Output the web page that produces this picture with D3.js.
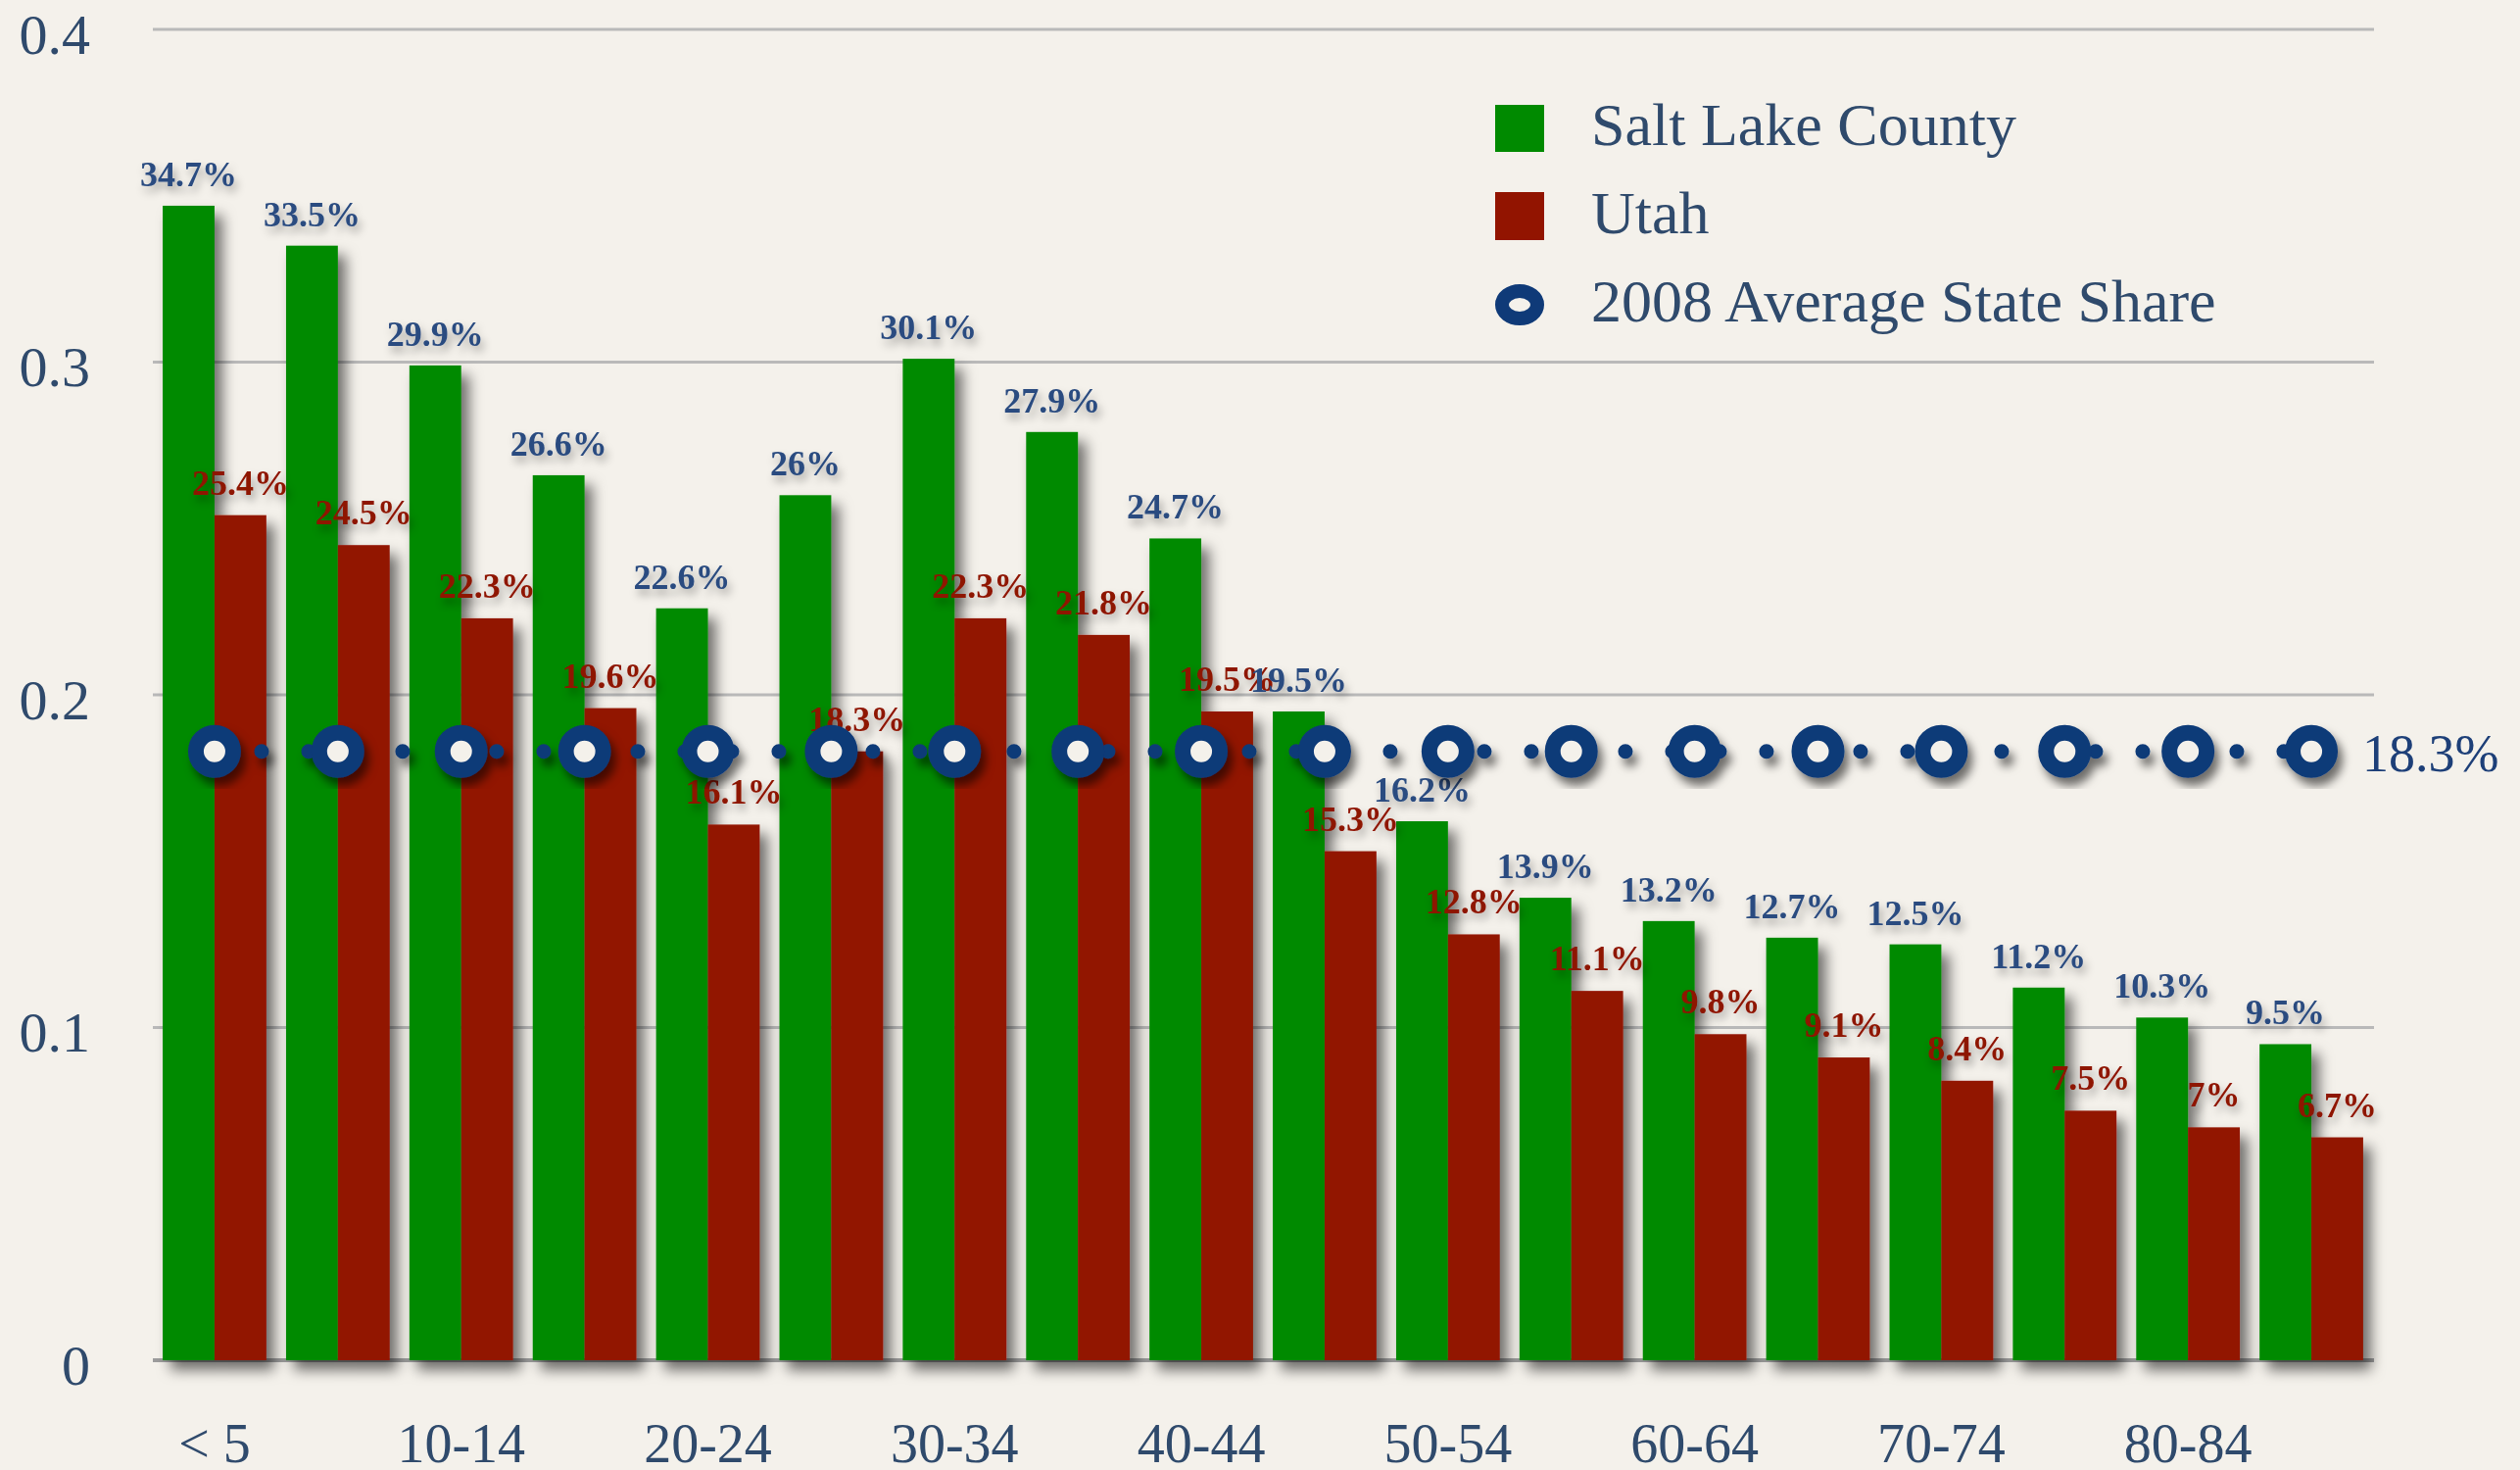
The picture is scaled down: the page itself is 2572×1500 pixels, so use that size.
<!DOCTYPE html>
<html>
<head>
<meta charset="utf-8">
<script src="https://cdn.jsdelivr.net/npm/d3@7"></script>
<style>
  body { margin: 0; background: #f4f1eb; }
  svg { display: block; }
  text { font-family: "Liberation Serif", "DejaVu Serif", serif; }
</style>
</head>
<body>
<div id="chart"></div>
<script>
// age groups, 2008 shares
var ageGroups = ["< 5", "5-9", "10-14", "15-19", "20-24", "25-29", "30-34", "35-39", "40-44",
  "45-49", "50-54", "55-59", "60-64", "65-69", "70-74", "75-79", "80-84", "85+"];
var saltLake = [0.347, 0.335, 0.299, 0.266, 0.226, 0.26, 0.301, 0.279, 0.247,
  0.195, 0.162, 0.139, 0.132, 0.127, 0.125, 0.112, 0.103, 0.095];
var utah = [0.254, 0.245, 0.223, 0.196, 0.161, 0.183, 0.223, 0.218, 0.195,
  0.153, 0.128, 0.111, 0.098, 0.091, 0.084, 0.075, 0.07, 0.067];
var stateAvg = [0.183, 0.183, 0.183, 0.183, 0.183, 0.183, 0.183, 0.183, 0.183,
  0.183, 0.183, 0.183, 0.183, 0.183, 0.183, 0.183, 0.183, 0.183];
var yTicks = [0, 0.1, 0.2, 0.3, 0.4];
var seriesNames = ["Salt Lake County", "Utah", "2008 Average State Share"];

var width = 2572;
var height = 1500;
var bg = "#f4f1eb";
var textColor = "#2f4a6c";
var green = "#008a00";
var red = "#921400";
var blue = "#0f3a78";

var svg = d3.select("#chart")
  .append("svg")
  .attr("width", width)
  .attr("height", height);

svg.append("rect").attr("width", width).attr("height", height).attr("fill", bg);

var defs = svg.append("defs");
defs.append("filter").attr("id", "barShadow")
  .attr("x", "-30%").attr("y", "-10%").attr("width", "160%").attr("height", "130%")
  .append("feDropShadow")
  .attr("dx", 8).attr("dy", 10).attr("stdDeviation", 7)
  .attr("flood-color", "#000").attr("flood-opacity", 0.55);
defs.append("filter").attr("id", "markShadow")
  .attr("x", "-50%").attr("y", "-50%").attr("width", "200%").attr("height", "200%")
  .append("feDropShadow")
  .attr("dx", 5).attr("dy", 8).attr("stdDeviation", 5)
  .attr("flood-color", "#000").attr("flood-opacity", 0.55);
defs.append("filter").attr("id", "textShadow")
  .attr("x", "-20%").attr("y", "-30%").attr("width", "140%").attr("height", "180%")
  .append("feDropShadow")
  .attr("dx", 3).attr("dy", 6).attr("stdDeviation", 4)
  .attr("flood-color", "#000").attr("flood-opacity", 0.32);

var x = d3.scaleBand()
  .domain(ageGroups)
  .range([156, 2422])
  .paddingInner(0.16)
  .paddingOuter(0.08);

var xs = d3.scaleBand()
  .domain(["slc", "utah"])
  .range([0, x.bandwidth()]);

var y = d3.scaleLinear()
  .domain([0, 0.4])
  .range([1388, 30]);

var pct = d3.format(".3~p");

// gridlines
svg.append("g")
  .selectAll("line")
  .data(yTicks)
  .enter()
  .append("line")
  .attr("x1", 156)
  .attr("x2", 2423)
  .attr("y1", function (d) { return y(d); })
  .attr("y2", function (d) { return y(d); })
  .attr("stroke", function (d) { return d === 0 ? "#9c9c9c" : "#b9b9b9"; })
  .attr("stroke-width", function (d) { return d === 0 ? 4 : 3; });

// y axis labels
var yAxis = svg.append("g")
  .attr("transform", "translate(92,0)")
  .call(d3.axisLeft(y).tickValues(yTicks).tickSize(0).tickPadding(0).tickFormat(d3.format("~g")));
yAxis.select(".domain").remove();
yAxis.selectAll("text")
  .attr("font-family", "Liberation Serif")
  .attr("font-size", 58)
  .attr("fill", textColor)
  .attr("dy", "0.42em");

// x axis labels, every other group
var xAxis = svg.append("g")
  .attr("transform", "translate(0,1388)")
  .call(d3.axisBottom(x)
    .tickValues(ageGroups.filter(function (d, i) { return i % 2 === 0; }))
    .tickSize(0));
xAxis.select(".domain").remove();
xAxis.selectAll("text")
  .attr("font-family", "Liberation Serif")
  .attr("font-size", 56)
  .attr("fill", textColor)
  .attr("y", 104)
  .attr("dy", 0);

// bars
var groups = svg.append("g")
  .attr("filter", "url(#barShadow)")
  .selectAll("g")
  .data(ageGroups)
  .enter()
  .append("g")
  .attr("transform", function (d) { return "translate(" + x(d) + ",0)"; });

groups.append("rect")
  .attr("x", xs("slc"))
  .attr("width", xs.bandwidth())
  .attr("y", function (d, i) { return y(saltLake[i]); })
  .attr("height", function (d, i) { return y(0) - y(saltLake[i]); })
  .attr("fill", green);

groups.append("rect")
  .attr("x", xs("utah"))
  .attr("width", xs.bandwidth())
  .attr("y", function (d, i) { return y(utah[i]); })
  .attr("height", function (d, i) { return y(0) - y(utah[i]); })
  .attr("fill", red);

// value labels
var labels = svg.append("g").attr("filter", "url(#textShadow)")
  .attr("font-family", "Liberation Serif")
  .attr("font-weight", "bold")
  .attr("font-size", 36)
  .attr("text-anchor", "middle");

labels.selectAll(".lab-utah")
  .data(utah)
  .enter()
  .append("text")
  .attr("class", "lab-utah")
  .attr("x", function (d, i) { return x(ageGroups[i]) + xs("utah") + xs.bandwidth() / 2; })
  .attr("y", function (d) { return y(d) - 21; })
  .attr("fill", "#8e1300")
  .text(function (d) { return pct(d); });

labels.selectAll(".lab-slc")
  .data(saltLake)
  .enter()
  .append("text")
  .attr("class", "lab-slc")
  .attr("x", function (d, i) { return x(ageGroups[i]) + xs("slc") + xs.bandwidth() / 2; })
  .attr("y", function (d) { return y(d) - 20; })
  .attr("fill", "#2b4c80")
  .text(function (d) { return pct(d); });

// average line
var cx = function (d, i) { return x(ageGroups[i]) + x.bandwidth() / 2; };
var line = d3.line()
  .x(cx)
  .y(function (d) { return y(d); });

var avg = svg.append("g").attr("filter", "url(#markShadow)");
avg.append("path")
  .datum(stateAvg)
  .attr("d", line)
  .attr("fill", "none")
  .attr("stroke", blue)
  .attr("stroke-width", 15)
  .attr("stroke-linecap", "round")
  .attr("stroke-dasharray", "0 48");

avg.selectAll("circle")
  .data(stateAvg)
  .enter()
  .append("circle")
  .attr("cx", cx)
  .attr("cy", function (d) { return y(d); })
  .attr("r", 19)
  .attr("fill", bg)
  .attr("stroke", blue)
  .attr("stroke-width", 16);

svg.append("text")
  .attr("x", x(ageGroups[ageGroups.length - 1]) + x.bandwidth() / 2 + 52)
  .attr("y", y(stateAvg[stateAvg.length - 1]) + 20)
  .attr("font-family", "Liberation Serif")
  .attr("font-size", 54)
  .attr("fill", "#1d3f78")
  .text(pct(stateAvg[stateAvg.length - 1]));

// legend
var legend = svg.append("g").attr("transform", "translate(1526,0)");
var legendY = [148, 238, 328];

legend.append("rect").attr("x", 0).attr("y", legendY[0] - 41).attr("width", 50).attr("height", 48).attr("fill", green);
legend.append("rect").attr("x", 0).attr("y", legendY[1] - 42).attr("width", 50).attr("height", 49).attr("fill", red);
legend.append("ellipse")
  .attr("cx", 25).attr("cy", legendY[2] - 17)
  .attr("rx", 18).attr("ry", 14)
  .attr("fill", bg)
  .attr("stroke", blue)
  .attr("stroke-width", 14);

legend.selectAll("text")
  .data(seriesNames)
  .enter()
  .append("text")
  .attr("x", 98)
  .attr("y", function (d, i) { return legendY[i]; })
  .attr("font-family", "Liberation Serif")
  .attr("font-size", 62)
  .attr("fill", textColor)
  .text(function (d) { return d; });
</script>
</body>
</html>
